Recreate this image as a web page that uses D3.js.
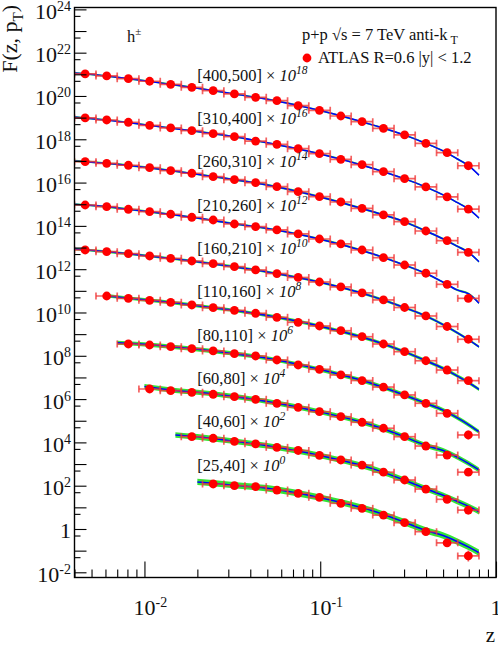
<!DOCTYPE html>
<html>
<head>
<meta charset="utf-8">
<script src="https://cdn.jsdelivr.net/npm/d3@7"></script>
<style>
body { margin: 0; background: #fff; }
svg { display: block; font-family: "Liberation Serif", "Times New Roman", serif; }
</style>
</head>
<body>
<script>
// z bins: centres and edges (log spaced)
var zCenter = [0.0046, 0.0061, 0.0081, 0.0107, 0.0141, 0.0186, 0.0246, 0.0325, 0.0429, 0.0567,
               0.0749, 0.099, 0.131, 0.173, 0.229, 0.302, 0.399, 0.527, 0.696];
var zEdges = [0.0040, 0.0053, 0.0070, 0.0093, 0.0123, 0.0162, 0.0214, 0.0283, 0.0373, 0.0493,
              0.0652, 0.0861, 0.114, 0.150, 0.199, 0.263, 0.347, 0.459, 0.606, 0.80];
// z nodes of the calculation curves
var zTheory = [0.004, 0.006, 0.007, 0.01, 0.015, 0.02, 0.03, 0.05, 0.1, 0.2, 0.3, 0.4, 0.5, 0.6, 0.7, 0.8];

var ptBins = ["[400,500]", "[310,400]", "[260,310]", "[210,260]", "[160,210]",
              "[110,160]", "[80,110]", "[60,80]", "[40,60]", "[25,40]"];
var scaleExp = [18, 16, 14, 12, 10, 8, 6, 4, 2, 0];
var firstBin = [0, 0, 0, 0, 0, 1, 2, 3, 5, 6];

// ATLAS points, unscaled F(z, pT), starting at firstBin
var atlas400 = [1040, 840, 630, 478, 347, 252, 176, 124, 87, 60.7, 35.6, 21.8, 11.9, 6.5, 3.2, 1.58, 0.65, 0.24, 0.060];
var atlas310 = [964, 778, 610, 443, 333, 250, 181, 132, 83, 58.7, 36.8, 21.6, 11.9, 6.7, 3.2, 1.51, 0.63, 0.22, 0.060];
var atlas260 = [922, 778, 630, 488, 355, 269, 187, 136, 99, 64.7, 38, 22.3, 12.7, 6.5, 3.2, 1.56, 0.58, 0.21, 0.060];
var atlas210 = [922, 771, 585, 453, 344, 250, 187, 122, 92, 64.7, 42.3, 24.8, 14.6, 7.7, 3.4, 1.56, 0.65, 0.20, 0.045];
var atlas160 = [771, 643, 520, 407, 318, 239, 179, 130, 92, 63, 41.4, 25.6, 15.1, 8.0, 3.8, 1.70, 0.69, 0.225, 0.058];
var atlas110 = [578, 453, 366, 296, 222, 167, 126, 92, 60, 35.2, 23.8, 14.4, 7.6, 3.5, 1.55, 0.59, 0.22, 0.071];
var atlas80  = [351, 315, 263, 213, 167, 125, 98, 64, 37.6, 23.8, 13.0, 7.2, 3.6, 1.55, 0.64, 0.22, 0.022];
var atlas60  = [293, 244, 206, 167, 129, 98, 64, 41.8, 26.2, 15.4, 8.5, 4.5, 1.83, 0.68, 0.26, 0.042];
var atlas40  = [183, 155, 112, 86, 59, 42.3, 25.4, 15.4, 9.0, 4.2, 1.83, 0.70, 0.235, 0.075];
var atlas25  = [120, 100, 90, 63, 44.6, 29.1, 15.4, 9.0, 4.4, 1.95, 0.75, 0.23, 0.057];
var atlas = [atlas400, atlas310, atlas260, atlas210, atlas160, atlas110, atlas80, atlas60, atlas40, atlas25];

// relative vertical errors of the two highest-z points
var errPrev = [0.12, 0.12, 0.12, 0.15, 0.15, 0.2, 0.4, 0.3, 0.3, 0.4];
var errLast = [0.3, 0.3, 0.3, 0.35, 0.35, 0.35, 0.6, 0.5, 0.6, 0.8];

// calculation, unscaled, on zTheory (null = not computed)
var theory400 = [1150, 847, 726, 507, 321, 229, 136, 71, 21.2, 4.5, 1.59, 0.64, 0.29, 0.126, 0.059, 0.022];
var theory310 = [1070, 785, 687, 474, 310, 229, 144, 68.5, 21.0, 4.5, 1.52, 0.62, 0.27, 0.121, 0.059, 0.023];
var theory260 = [1000, 785, 708, 515, 332, 244, 149, 78, 21.8, 4.45, 1.57, 0.57, 0.25, 0.116, 0.059, 0.022];
var theory210 = [1000, 776, 676, 478, 318, 231, 137, 75.5, 24.3, 5.0, 1.57, 0.635, 0.25, 0.11, 0.072, 0.027];
var theory160 = [850, 649, 575, 430, 297, 221, 142, 74.5, 25, 5.4, 1.71, 0.68, 0.275, 0.118, 0.055, 0.026];
var theory110 = [null, 589, 525, 384, 276, 206, 136, 72, 23.2, 5.05, 1.56, 0.59, 0.264, 0.119, 0.057, 0.028];
var theory80  = [null, null, 400, 340, 250, 199, 135, 77, 23.1, 5.0, 1.55, 0.63, 0.31, 0.139, 0.065, 0.031];
var theory60  = [null, null, null, 380, 250, 205, 142, 77, 25.6, 6.0, 1.84, 0.72, 0.42, 0.21, 0.105, 0.053];
var theory40  = [null, null, null, null, 220, 180, 122, 70, 24.8, 6.0, 1.84, 0.72, 0.36, 0.19, 0.11, 0.063];
var theory25  = [null, null, null, null, null, 150, 112, 76, 28, 6.8, 2.1, 0.85, 0.5, 0.265, 0.145, 0.08];
var theory = [theory400, theory310, theory260, theory210, theory160, theory110, theory80, theory60, theory40, theory25];
var bandFactor = [1.1, 1.1, 1.12, 1.12, 1.15, 1.2, 1.25, 1.3, 1.35, 1.4];

var w = 498, h = 645;
var plotL = 74.5, plotR = 496, plotT = 7.5, plotB = 577.5;

var svg = d3.select('body').append('svg')
  .attr('width', w)
  .attr('height', h);

var x = d3.scaleLog().domain([0.004, 1]).range([plotL, plotR]);
var y = d3.scaleLog().domain([5.75e-3, 1.22e24]).range([plotB, plotT]);

svg.append('clipPath').attr('id', 'plot')
  .append('rect').attr('x', plotL).attr('y', plotT)
  .attr('width', plotR - plotL).attr('height', plotB - plotT);

var g = svg.append('g').attr('clip-path', 'url(#plot)');

ptBins.forEach(function(bin, k) {
  var s = Math.pow(10, scaleExp[k]);
  var th = zTheory.map((z, j) => ({ z: z, v: theory[k][j] })).filter(d => d.v != null);
  var bf = bandFactor[k];

  g.append('path').datum(th)
    .attr('d', d3.area().curve(d3.curveMonotoneX)
      .x(d => x(d.z)).y0(d => y(d.v * s / bf)).y1(d => y(d.v * s * bf)))
    .attr('fill', '#1fe01f')
    .attr('opacity', 0.9);

  g.append('path').datum(th)
    .attr('d', d3.line().curve(d3.curveMonotoneX).x(d => x(d.z)).y(d => y(d.v * s)))
    .attr('fill', 'none')
    .attr('stroke', '#0000ff')
    .attr('stroke-width', 1.5);

  var pts = atlas[k].map(function(v, j) {
    var i = firstBin[k] + j;
    var n = atlas[k].length;
    var e = j === n - 1 ? errLast[k] : (j === n - 2 ? errPrev[k] : 0.04);
    return { z: zCenter[i], lo: zEdges[i], hi: zEdges[i + 1], v: v * s, e: e };
  });

  var eb = g.append('g')
    .attr('stroke', '#f03a3a')
    .attr('stroke-opacity', 0.8)
    .attr('stroke-width', 1.7);

  eb.selectAll('.hbar').data(pts).enter().append('line')
    .attr('x1', d => x(d.lo)).attr('x2', d => x(d.hi))
    .attr('y1', d => y(d.v)).attr('y2', d => y(d.v));
  eb.selectAll('.capl').data(pts).enter().append('line')
    .attr('x1', d => x(d.lo)).attr('x2', d => x(d.lo))
    .attr('y1', d => y(d.v) - 3.5).attr('y2', d => y(d.v) + 3.5);
  eb.selectAll('.capr').data(pts).enter().append('line')
    .attr('x1', d => x(d.hi)).attr('x2', d => x(d.hi))
    .attr('y1', d => y(d.v) - 3.5).attr('y2', d => y(d.v) + 3.5);
  eb.selectAll('.vbar').data(pts).enter().append('line')
    .attr('x1', d => x(d.z)).attr('x2', d => x(d.z))
    .attr('y1', d => y(d.v * (1 + d.e))).attr('y2', d => y(d.v / (1 + d.e)));

  g.selectAll('.pt' + k).data(pts).enter().append('circle')
    .attr('cx', d => x(d.z))
    .attr('cy', d => y(d.v))
    .attr('r', 4.4)
    .attr('fill', '#ff0000');

  var lab = svg.append('text')
    .attr('x', x(0.02))
    .attr('y', y(500 * s))
    .attr('font-size', 16.5)
    .attr('fill', '#111');
  lab.append('tspan').text(bin + ' \u00d7 ');
  lab.append('tspan').attr('font-style', 'italic').text('10');
  lab.append('tspan').attr('font-size', 11.5).attr('font-style', 'italic')
    .attr('dy', -7).text(scaleExp[k]);
});

// axes
var xMajor = [0.01, 0.1, 1];
var xMinor = [];
[0.001, 0.01, 0.1].forEach(function(d) {
  for (var m = 2; m <= 9; m++) if (d * m >= 0.004 && d * m < 1) xMinor.push(d * m);
});
svg.append('g').attr('transform', 'translate(0,' + plotB + ')')
  .call(d3.axisBottom(x).tickValues(xMajor).tickSize(-16).tickFormat(''))
  .call(a => a.select('.domain').remove());
svg.append('g').attr('transform', 'translate(0,' + plotB + ')')
  .call(d3.axisBottom(x).tickValues(xMinor).tickSize(-8).tickFormat(''))
  .call(a => a.select('.domain').remove());

var yMajor = d3.range(-2, 25).map(p => Math.pow(10, p));
var yMinor = d3.range(-2, 24).map(p => 5 * Math.pow(10, p));
svg.append('g').attr('transform', 'translate(' + plotL + ',0)')
  .call(d3.axisLeft(y).tickValues(yMajor).tickSize(-12).tickFormat(''))
  .call(a => a.select('.domain').remove());
svg.append('g').attr('transform', 'translate(' + plotL + ',0)')
  .call(d3.axisLeft(y).tickValues(yMinor).tickSize(-6).tickFormat(''))
  .call(a => a.select('.domain').remove());
svg.selectAll('.tick line').attr('stroke', '#000').attr('stroke-width', 1.1);

svg.append('rect')
  .attr('x', plotL).attr('y', plotT)
  .attr('width', plotR - plotL).attr('height', plotB - plotT)
  .attr('fill', 'none').attr('stroke', '#000').attr('stroke-width', 1.4);

// tick labels
function powLabel(sel, p) {
  if (p === 0) { sel.append('tspan').text('1'); return; }
  sel.append('tspan').text('10');
  sel.append('tspan').attr('font-size', 14).attr('dy', -8).text(p);
}
d3.range(-2, 25, 2).forEach(function(p) {
  var t = svg.append('text')
    .attr('x', 71).attr('y', y(Math.pow(10, p)) + 9.5)
    .attr('text-anchor', 'end').attr('font-size', 22).attr('fill', '#111');
  powLabel(t, p);
});
[-2, -1, 0].forEach(function(p) {
  var t = svg.append('text')
    .attr('x', x(Math.pow(10, p)) + (p === 0 ? 0 : 6)).attr('y', 615)
    .attr('text-anchor', 'middle').attr('font-size', 22).attr('fill', '#111');
  powLabel(t, p);
});

// axis titles
svg.append('text')
  .attr('x', 495).attr('y', 642)
  .attr('text-anchor', 'end').attr('font-size', 21).attr('fill', '#111')
  .text('z');

var yt = svg.append('text')
  .attr('transform', 'translate(17,5) rotate(-90)')
  .attr('text-anchor', 'end').attr('font-size', 22).attr('fill', '#111');
yt.append('tspan').text('F(z, p');
yt.append('tspan').attr('font-size', 15).attr('dy', 6).text('T');
yt.append('tspan').attr('dy', -6).text(')');

// annotations
var hh = svg.append('text').attr('x', 127).attr('y', 42).attr('font-size', 16.5).attr('fill', '#111');
hh.append('tspan').text('h');
hh.append('tspan').attr('font-size', 11).attr('dy', -7).text('\u00b1');

var l1 = svg.append('text').attr('x', 302).attr('y', 40).attr('font-size', 16.5).attr('fill', '#111');
l1.append('tspan').text('p+p \u221As = 7 TeV anti-k');
l1.append('tspan').attr('font-size', 12).attr('dx', 3).attr('dy', 4).text('T');

svg.append('circle').attr('cx', 307).attr('cy', 58).attr('r', 4.4).attr('fill', '#ff0000');
svg.append('text').attr('x', 318).attr('y', 63).attr('font-size', 16.5).attr('fill', '#111')
  .text('ATLAS R=0.6 |y| < 1.2');
</script>
</body>
</html>
